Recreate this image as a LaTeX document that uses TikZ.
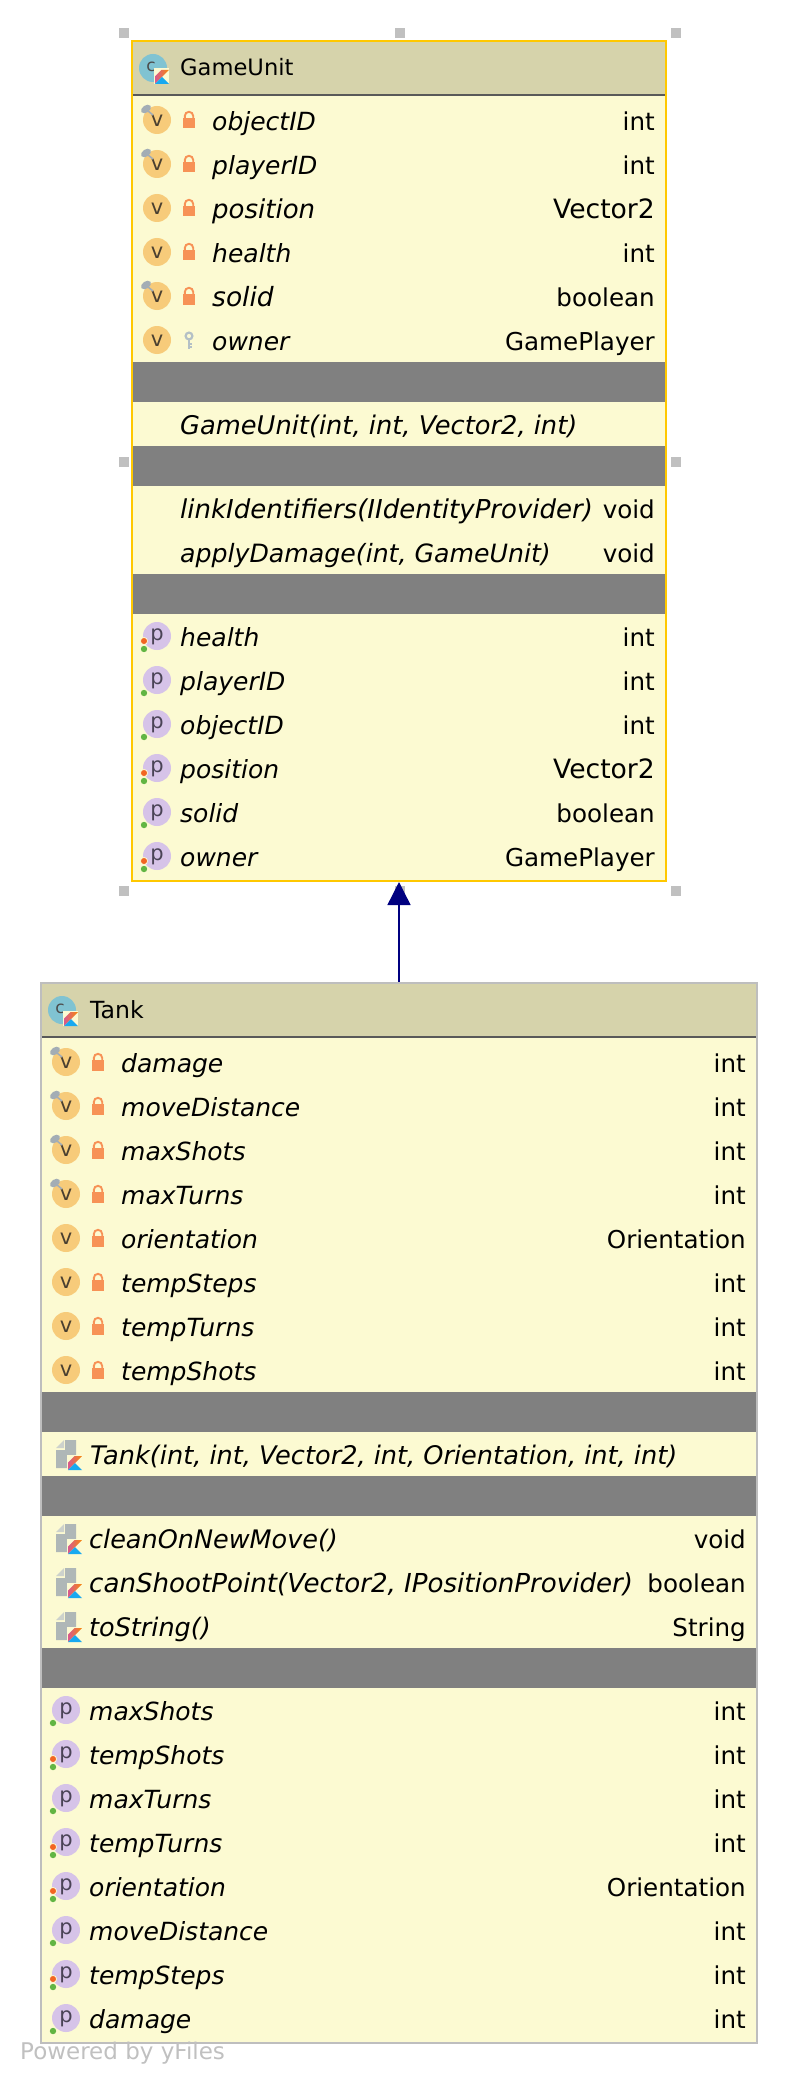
\documentclass[tikz,border=0pt]{standalone}
\usepackage{fontspec}
\setmainfont{DejaVu Sans}
\usetikzlibrary{arrows.meta}
\definecolor{headbeige}{HTML}{D6D3AB}
\definecolor{rowyellow}{HTML}{FCFAD2}
\definecolor{bandgrey}{HTML}{808080}
\definecolor{selectorange}{HTML}{FFC800}
\definecolor{plainborder}{HTML}{BEBEBE}
\definecolor{handlegrey}{HTML}{C0C0C0}
\definecolor{valcircle}{HTML}{F7CB7A}
\definecolor{valletter}{HTML}{4A3F30}
\definecolor{propcircle}{HTML}{D6C3E8}
\definecolor{propletter}{HTML}{4A4356}
\definecolor{classcircle}{HTML}{80C3D2}
\definecolor{lockorange}{HTML}{F79256}
\definecolor{pingrey}{HTML}{A3ADB5}
\definecolor{keygrey}{HTML}{B4C0C6}
\definecolor{docgrey}{HTML}{AFB7B7}
\definecolor{foldgrey}{HTML}{CDD2CC}
\definecolor{dotgreen}{HTML}{62B543}
\definecolor{dotred}{HTML}{F26522}
\definecolor{kotorange}{HTML}{F88909}
\definecolor{kotpink}{HTML}{D7598E}
\definecolor{kotblue}{HTML}{18A9F0}
\tikzset{
	classbox/.style={draw, line width=2pt, fill=rowyellow, inner sep=0},
	headbox/.style={fill=headbeige, inner sep=0, minimum height=53pt},
	bandbox/.style={fill=bandgrey, inner sep=0, minimum height=40pt},
	handlebox/.style={fill=handlegrey, inner sep=0, minimum size=10pt},
	titletext/.style={anchor=base west, inner sep=0, font=\fontsize{#1}{26}\selectfont},
	titletext/.default=22.6,
	nametext/.style={anchor=base west, inner sep=0, font=\fontsize{#1}{30}\selectfont\itshape},
	nametext/.default=25,
	typetext/.style={anchor=base east, inner sep=0, font=\fontsize{#1}{30}\selectfont},
	typetext/.default=24.6,
	iconletter/.style={inner sep=0, font=\fontsize{21}{24}\selectfont},
	inherits/.style={draw=black!0!blue!50!black, line width=1.4pt, -{Triangle[length=23pt,width=23pt]}}
}
% lock and key sit right of the round icon
\newcommand{\lockicon}[2]{
	\begin{scope}[shift={(#1,#2)}]
		\draw[lockorange, line width=1.9pt] (27.8,-2) -- (27.8,-4) arc[start angle=180, end angle=360, radius=4.2] -- (36.2,-2);
		\fill[lockorange] (26,-2) rectangle (38,8.5);
	\end{scope}}
\newcommand{\keyicon}[2]{
	\begin{scope}[shift={(#1,#2)}]
		\draw[keygrey, line width=2.2pt] (32,-4) circle [radius=3.4];
		\draw[keygrey, line width=2.4pt] (32,-1) -- (32,9);
		\draw[keygrey, line width=2pt] (32,3.5) -- (35,3.5);
		\draw[keygrey, line width=2pt] (32,7) -- (35,7);
	\end{scope}}
\newcommand{\pinbadge}[2]{
	\begin{scope}[shift={(#1,#2)}]
		\draw[pingrey, line width=1.6pt] (-9,-9) -- (-4,-5);
		\fill[pingrey, shift={(-11,-11)}, rotate=35] (0,0) ellipse [x radius=5.5, y radius=3.6];
	\end{scope}}
\newcommand{\greendot}[2]{\fill[dotgreen] (#1-13,#2+13) circle [radius=3.2];}
\newcommand{\reddot}[2]{\fill[dotred, draw=rowyellow, line width=0.8pt] (#1-13,#2+5) circle [radius=3.6];}
\newcommand{\kotbadge}[3]{
	\begin{scope}[shift={(#2,#3)}]
		\fill[#1] (-1.5,-1.5) rectangle (14,14);
		\shade[left color=kotpink, right color=kotorange] (6.5,0) -- (14,0) -- (7,7) -- (0,14) -- (0,6.5) -- cycle;
		\fill[kotblue] (7,7) -- (14,14) -- (0,14) -- cycle;
	\end{scope}}
\newcommand{\docicon}[2]{
	\begin{scope}[shift={(#1,#2)}]
		\fill[foldgrey] (-10,-6) -- (-2,-6) -- (-2,-14) -- cycle;
		\fill[docgrey] (-10,-4) -- (-1,-4) -- (-1,-14) -- (10,-14) -- (10,14) -- (-10,14) -- cycle;
	\end{scope}
	\kotbadge{rowyellow}{#1+2}{#2+2}}
% #1 name #2 icon x #3 row y #4 member #5 type #6 right end, #7 sizes
\newcommand{\fieldrow}[7][nametext]{
	\fill[valcircle] (#3,#4) circle [radius=14];
	\node[iconletter, text=valletter] (#2icon) at (#3,#4+0.5) {v};
	\node[#1] (#2name) at (#3+55,#4+10.2) {#5};
	\node[typetext] (#2type) at (#7,#4+10.2) {#6};}
\newcommand{\proprow}[7][typetext]{
	\fill[propcircle] (#3,#4) circle [radius=14];
	\node[iconletter, text=propletter] (#2icon) at (#3,#4+1) {p};
	\greendot{#3}{#4}
	\node[nametext] (#2name) at (#3+23,#4+10.2) {#5};
	\node[#1] (#2type) at (#7,#4+10.2) {#6};}
\begin{document}
\begin{tikzpicture}[x=1pt, y=-1pt]
	\useasboundingbox (0,0) rectangle (798,2084);
	% GameUnit
	\node[classbox, draw=selectorange, minimum width=534pt, minimum height=840pt] (gamebox) at (399,461) {};
	\node[headbox, minimum width=532pt] (gamehead) at (399,68.5) {};
	\draw[black!65, line width=2pt] (gamehead.south west) -- (gamehead.south east);
	\node[bandbox, minimum width=532pt] (gameband1) at (399,382) {};
	\node[bandbox, minimum width=532pt] (gameband2) at (399,466) {};
	\node[bandbox, minimum width=532pt] (gameband3) at (399,594) {};
	\node[handlebox] (gamehandle1) at (124,33) {};
	\node[handlebox] (gamehandle2) at (400,33) {};
	\node[handlebox] (gamehandle3) at (676,33) {};
	\node[handlebox] (gamehandle4) at (124,462) {};
	\node[handlebox] (gamehandle5) at (676,462) {};
	\node[handlebox] (gamehandle6) at (124,891) {};
	\node[handlebox] (gamehandle7) at (400,891) {};
	\node[handlebox] (gamehandle8) at (676,891) {};
	\fill[classcircle] (153,68) circle [radius=14];
	\node[iconletter, text=black!70, font=\fontsize{17}{18}\selectfont] (gameclassicon) at (151,67) {c};
	\kotbadge{rowyellow}{155}{70}
	\node[titletext] (gametitle) at (180,76) {GameUnit};
	\fieldrow{gameobject}{157}{120}{objectID}{int}{655}
	\pinbadge{157}{120} \lockicon{157}{120}
	\fieldrow{gameplayer}{157}{164}{playerID}{int}{655}
	\pinbadge{157}{164} \lockicon{157}{164}
	\fieldrow[nametext=26]{gameposition}{157}{208}{position}{\fontsize{26.6}{30}\selectfont Vector2}{655}
	\lockicon{157}{208}
	\fieldrow{gamehealth}{157}{252}{health}{int}{655}
	\lockicon{157}{252}
	\fieldrow[nametext=26.5]{gamesolid}{157}{296}{solid}{boolean}{655}
	\pinbadge{157}{296} \lockicon{157}{296}
	\fieldrow{gameowner}{157}{340}{owner}{GamePlayer}{655}
	\keyicon{157}{340}
	\node[nametext=25.7] (gameconstructor) at (180,434.2) {GameUnit(int, int, Vector2, int)};
	\node[nametext=26] (gamelinkname) at (180,518.2) {linkIdentifiers(IIdentityProvider)};
	\node[typetext] (gamelinktype) at (655,518.2) {void};
	\node[nametext=25.2] (gameapplyname) at (180,562.2) {applyDamage(int, GameUnit)};
	\node[typetext] (gameapplytype) at (655,562.2) {void};
	\proprow{propgamehealth}{157}{636}{health}{int}{655}
	\reddot{157}{636}
	\proprow{propgameplayer}{157}{680}{playerID}{int}{655}
	\proprow{propgameobject}{157}{724}{objectID}{int}{655}
	\proprow[typetext=26.6]{propgameposition}{157}{768}{position}{Vector2}{655}
	\reddot{157}{768}
	\proprow{propgamesolid}{157}{812}{solid}{boolean}{655}
	\proprow{propgameowner}{157}{856}{owner}{GamePlayer}{655}
	\reddot{157}{856}
	% Tank
	\node[classbox, draw=plainborder, minimum width=716pt, minimum height=1059.5pt] (tankbox) at (399,1512.75) {};
	\node[headbox, minimum width=714pt] (tankhead) at (399,1010.5) {};
	\draw[black!65, line width=2pt] (tankhead.south west) -- (tankhead.south east);
	\node[bandbox, minimum width=714pt] (tankband1) at (399,1412) {};
	\node[bandbox, minimum width=714pt] (tankband2) at (399,1496) {};
	\node[bandbox, minimum width=714pt] (tankband3) at (399,1668) {};
	\fill[classcircle] (62,1010) circle [radius=14];
	\node[iconletter, text=black!70, font=\fontsize{17}{18}\selectfont] (tankclassicon) at (60,1009) {c};
	\kotbadge{rowyellow}{64}{1012}
	\node[titletext=23.6] (tanktitle) at (90,1018) {Tank};
	\fieldrow{tankdamage}{66}{1062}{damage}{int}{746}
	\pinbadge{66}{1062} \lockicon{66}{1062}
	\fieldrow{tankmove}{66}{1106}{moveDistance}{int}{746}
	\pinbadge{66}{1106} \lockicon{66}{1106}
	\fieldrow{tankshots}{66}{1150}{maxShots}{int}{746}
	\pinbadge{66}{1150} \lockicon{66}{1150}
	\fieldrow{tankturns}{66}{1194}{maxTurns}{int}{746}
	\pinbadge{66}{1194} \lockicon{66}{1194}
	\fieldrow{tankorient}{66}{1238}{orientation}{Orientation}{746}
	\lockicon{66}{1238}
	\fieldrow{tanktempsteps}{66}{1282}{tempSteps}{int}{746}
	\lockicon{66}{1282}
	\fieldrow{tanktempturns}{66}{1326}{tempTurns}{int}{746}
	\lockicon{66}{1326}
	\fieldrow{tanktempshots}{66}{1370}{tempShots}{int}{746}
	\lockicon{66}{1370}
	\docicon{66}{1454}
	\node[nametext=25.6] (tankconstructor) at (90,1464.2) {Tank(int, int, Vector2, int, Orientation, int, int)};
	\docicon{66}{1538}
	\node[nametext=25.5] (tankcleanname) at (89,1548.2) {cleanOnNewMove()};
	\node[typetext] (tankcleantype) at (746,1548.2) {void};
	\docicon{66}{1582}
	\node[nametext=26.1] (tankshootname) at (89,1592.2) {canShootPoint(Vector2, IPositionProvider)};
	\node[typetext] (tankshoottype) at (746,1592.2) {boolean};
	\docicon{66}{1626}
	\node[nametext=25.5] (tankstringname) at (89,1636.2) {toString()};
	\node[typetext] (tankstringtype) at (746,1636.2) {String};
	\proprow{proptankshots}{66}{1710}{maxShots}{int}{746}
	\proprow{proptanktempshots}{66}{1754}{tempShots}{int}{746}
	\reddot{66}{1754}
	\proprow{proptankturns}{66}{1798}{maxTurns}{int}{746}
	\proprow{proptanktempturns}{66}{1842}{tempTurns}{int}{746}
	\reddot{66}{1842}
	\proprow{proptankorient}{66}{1886}{orientation}{Orientation}{746}
	\reddot{66}{1886}
	\proprow{proptankmove}{66}{1930}{moveDistance}{int}{746}
	\proprow{proptanktempsteps}{66}{1974}{tempSteps}{int}{746}
	\reddot{66}{1974}
	\proprow{proptankdamage}{66}{2018}{damage}{int}{746}
	% inheritance arrow
	\draw[inherits] (tankbox.north) -- (gamebox.south);
	\node[anchor=base west, inner sep=0, text=handlegrey, font=\fontsize{23}{26}\selectfont] (poweredby) at (20,2059) {Powered by yFiles};
\end{tikzpicture}
\end{document}
